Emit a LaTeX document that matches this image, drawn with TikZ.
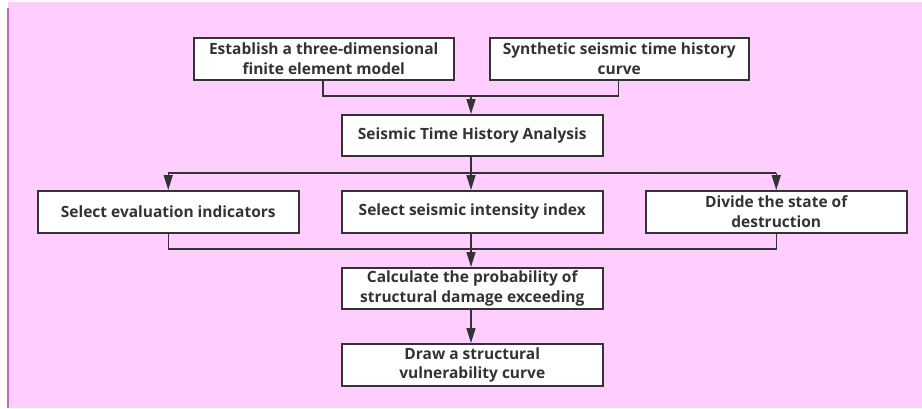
\documentclass[tikz,border=0pt]{standalone}
\usepackage{fontspec}
\setmainfont{Open Sans}[BoldFont={* Bold}]
\usetikzlibrary{arrows.meta}
\definecolor{bgpink}{RGB}{255,206,255}
\definecolor{edgepurple}{RGB}{196,102,196}
\definecolor{ink}{RGB}{51,51,51}
\tikzset{
  box/.style={draw=ink, line width=1.5pt, fill=white, inner sep=0pt, anchor=north west,
    font=\fontsize{15.5}{19.5}\selectfont\bfseries, text=ink, align=center},
  conn/.style={draw=ink, line width=1.5pt},
  arr/.style={conn, -{Triangle[width=9pt,length=15pt]}},
}
\begin{document}
\begin{tikzpicture}[x=1pt,y=-1pt]
\useasboundingbox (0,0) rectangle (922,408);
\fill[bgpink] (8,2) rectangle (922,408);
\draw[edgepurple, line width=2pt] (8,8) -- (8,408);
% boxes
\node[box, minimum width=260pt, minimum height=42pt] (A) at (193,37) {Establish a three-dimensional\\finite element model};
\node[box, minimum width=259pt, minimum height=42pt] (B) at (489,37) {Synthetic seismic time history\\curve};
\node[box, minimum width=261pt, minimum height=41pt] (C) at (341,114) {Seismic Time History Analysis};
\node[box, minimum width=261pt, minimum height=42pt] (D) at (37,190) {Select evaluation indicators};
\node[box, minimum width=261pt, minimum height=42pt] (E) at (341,190) {Select seismic intensity index};
\node[box, minimum width=261pt, minimum height=42pt] (F) at (645,190) {Divide the state of\\destruction};
\node[box, minimum width=261pt, minimum height=41pt] (G) at (341,267) {Calculate the probability of\\structural damage exceeding};
\node[box, minimum width=261pt, minimum height=42pt] (H) at (341,343) {Draw a structural\\vulnerability curve};
% junction coordinates
\coordinate (j1) at (471,96);
\coordinate (j2) at (471,173);
\coordinate (j3) at (471,249);
% top merge
\draw[conn] ([xshift=-1pt]A.south) -- ([xshift=-1pt]A.south |- j1) -- ([xshift=-1pt]B.south |- j1) -- ([xshift=-1pt]B.south);
\draw[arr] (j1) -- (C.north -| j1);
% split
\draw[conn] (C.south -| j2) -- (j2);
\draw[conn] (D.north |- j2) -- (F.north |- j2);
\draw[arr] (D.north |- j2) -- (D.north);
\draw[arr] (j2) -- (E.north -| j2);
\draw[arr] (F.north |- j2) -- (F.north);
% merge
\draw[conn] (D.south) -- (D.south |- j3) -- (F.south |- j3) -- (F.south);
\draw[conn] (E.south -| j3) -- (j3);
\draw[arr] (j3) -- (G.north -| j3);
\draw[arr] (G.south -| j3) -- (H.north -| j3);
\end{tikzpicture}
\end{document}
